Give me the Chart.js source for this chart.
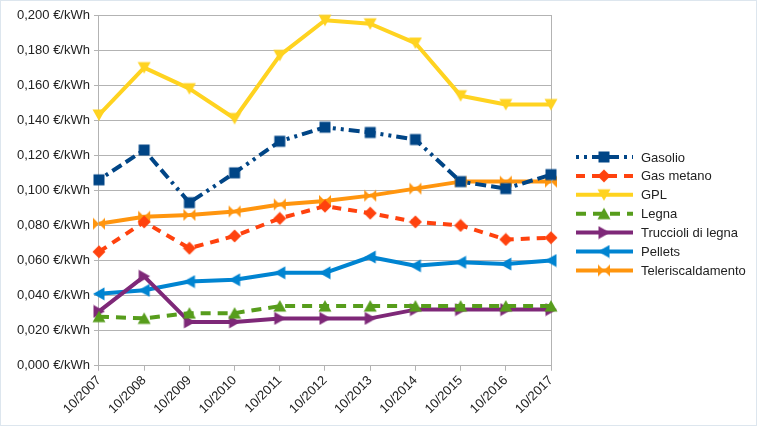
<!DOCTYPE html>
<html>
<head>
<meta charset="utf-8">
<script src="https://cdn.jsdelivr.net/npm/chart.js@4/dist/chart.umd.min.js"></script>
<style>
  html, body { margin: 0; padding: 0; background: #fff; }
  #wrap { width: 757px; height: 426px; box-sizing: border-box; border: 1px solid #dde6ee; position: relative; }
</style>
</head>
<body>
<div id="wrap"><canvas id="chart"></canvas></div>
<script>
// categories
const years = ['10/2007', '10/2008', '10/2009', '10/2010', '10/2011', '10/2012',
               '10/2013', '10/2014', '10/2015', '10/2016', '10/2017'];

// prices in €/kWh
const gasolio   = [0.106, 0.123, 0.093, 0.110, 0.128, 0.136, 0.133, 0.129, 0.105, 0.101, 0.109];
const gasMetano = [0.065, 0.082, 0.067, 0.074, 0.084, 0.091, 0.087, 0.082, 0.080, 0.072, 0.073];
const gpl       = [0.143, 0.170, 0.158, 0.141, 0.177, 0.197, 0.195, 0.184, 0.154, 0.149, 0.149];
const legna     = [0.028, 0.027, 0.030, 0.030, 0.034, 0.034, 0.034, 0.034, 0.034, 0.034, 0.034];
const trucciolo = [0.031, 0.051, 0.025, 0.025, 0.027, 0.027, 0.027, 0.032, 0.032, 0.032, 0.032];
const pellets   = [0.041, 0.043, 0.048, 0.049, 0.053, 0.053, 0.062, 0.057, 0.059, 0.058, 0.060];
const teleri    = [0.081, 0.085, 0.086, 0.088, 0.092, 0.094, 0.097, 0.101, 0.105, 0.105, 0.105];

const FONT = '"Liberation Sans", Arial, sans-serif';

// small canvases used as point markers
function makeMarker(shape, color) {
    const c = document.createElement('canvas');
    c.width = 14; c.height = 14;
    const g = c.getContext('2d');
    g.fillStyle = color;
    g.beginPath();
    if (shape == 'square') {
        g.rect(1.5, 1.5, 11, 11);
    } else if (shape == 'diamond') {
        g.moveTo(7, 0.5); g.lineTo(13.5, 7); g.lineTo(7, 13.5); g.lineTo(0.5, 7);
    } else if (shape == 'down') {
        g.moveTo(0.5, 1.5); g.lineTo(13.5, 1.5); g.lineTo(7, 13);
    } else if (shape == 'up') {
        g.moveTo(0.5, 12.5); g.lineTo(13.5, 12.5); g.lineTo(7, 1);
    } else if (shape == 'right') {
        g.moveTo(1.5, 0.5); g.lineTo(1.5, 13.5); g.lineTo(13, 7);
    } else if (shape == 'left') {
        g.moveTo(12.5, 0.5); g.lineTo(12.5, 13.5); g.lineTo(1, 7);
    } else if (shape == 'bowtie') {
        // horizontal bowtie: two triangles meeting in the middle
        g.moveTo(1, 1); g.lineTo(13, 13); g.lineTo(13, 1); g.lineTo(1, 13);
    }
    g.closePath();
    g.fill();
    return c;
}

function series(label, data, color, shape, dash) {
    const marker = makeMarker(shape, color);
    return {
        label: label,
        data: data,
        borderColor: color,
        backgroundColor: color,
        borderWidth: 4,
        borderDash: dash,
        borderCapStyle: 'butt',
        borderJoinStyle: 'round',
        pointStyle: marker,
        pointHoverStyle: marker,
        tension: 0,
        clip: false,
    };
}

const datasets = [
    series('Gasolio', gasolio, '#004586', 'square', [3, 5, 3, 5, 11, 5, 11, 5]),
    series('Gas metano', gasMetano, '#ff420e', 'diamond', [9, 7]),
    series('GPL', gpl, '#ffd320', 'down', []),
    series('Legna', legna, '#579d1c', 'up', [10, 7]),
    series('Truccioli di legna', trucciolo, '#7e2878', 'right', []),
    series('Pellets', pellets, '#0084d1', 'left', []),
    series('Teleriscaldamento', teleri, '#ff950e', 'bowtie', []),
];

// legend drawn by hand so the line sample shows dash + marker
const sideLegend = {
    id: 'sideLegend',
    afterDraw(chart) {
        const ctx = chart.ctx;
        ctx.save();
        chart.data.datasets.forEach((ds, i) => {
            const y = 156 + i * 18.9;
            ctx.strokeStyle = ds.borderColor;
            ctx.lineWidth = 4;
            ctx.lineCap = 'butt';
            ctx.setLineDash(ds.borderDash || []);
            ctx.beginPath();
            ctx.moveTo(575, y);
            ctx.lineTo(632, y);
            ctx.stroke();
            ctx.setLineDash([]);
            ctx.drawImage(ds.pointStyle, 603 - 7, y - 7);
            ctx.fillStyle = '#222';
            ctx.font = '13px ' + FONT;
            ctx.textBaseline = 'middle';
            ctx.fillText(ds.label, 640, y + 1);
        });
        ctx.restore();
    }
};

new Chart(document.getElementById('chart'), {
    type: 'line',
    data: { labels: years, datasets: datasets },
    plugins: [sideLegend],
    options: {
        responsive: true,
        maintainAspectRatio: false,
        animation: false,
        layout: { padding: { top: 14, left: 12, right: 205, bottom: 6 } },
        plugins: {
            legend: { display: false },
            tooltip: { enabled: false },
        },
        scales: {
            x: {
                offset: false,
                border: { display: false },
                grid: {
                    drawOnChartArea: true,
                    color: (c) => (c.index == 0 || c.index == years.length - 1) ? '#b3b3b3' : 'rgba(0,0,0,0)',
                    tickColor: '#b3b3b3',
                    tickLength: 5,
                },
                ticks: {
                    color: '#222',
                    font: { family: FONT, size: 13 },
                    minRotation: 45,
                    maxRotation: 45,
                    padding: 2,
                    autoSkip: false,
                },
            },
            y: {
                min: 0,
                max: 0.2,
                border: { display: false },
                grid: { color: '#b3b3b3', tickColor: '#b3b3b3', tickLength: 5 },
                ticks: {
                    stepSize: 0.02,
                    color: '#222',
                    font: { family: FONT, size: 13 },
                    padding: 4,
                    callback: (v) => v.toFixed(3).replace('.', ',') + ' €/kWh',
                },
            },
        },
    },
});
</script>
</body>
</html>
